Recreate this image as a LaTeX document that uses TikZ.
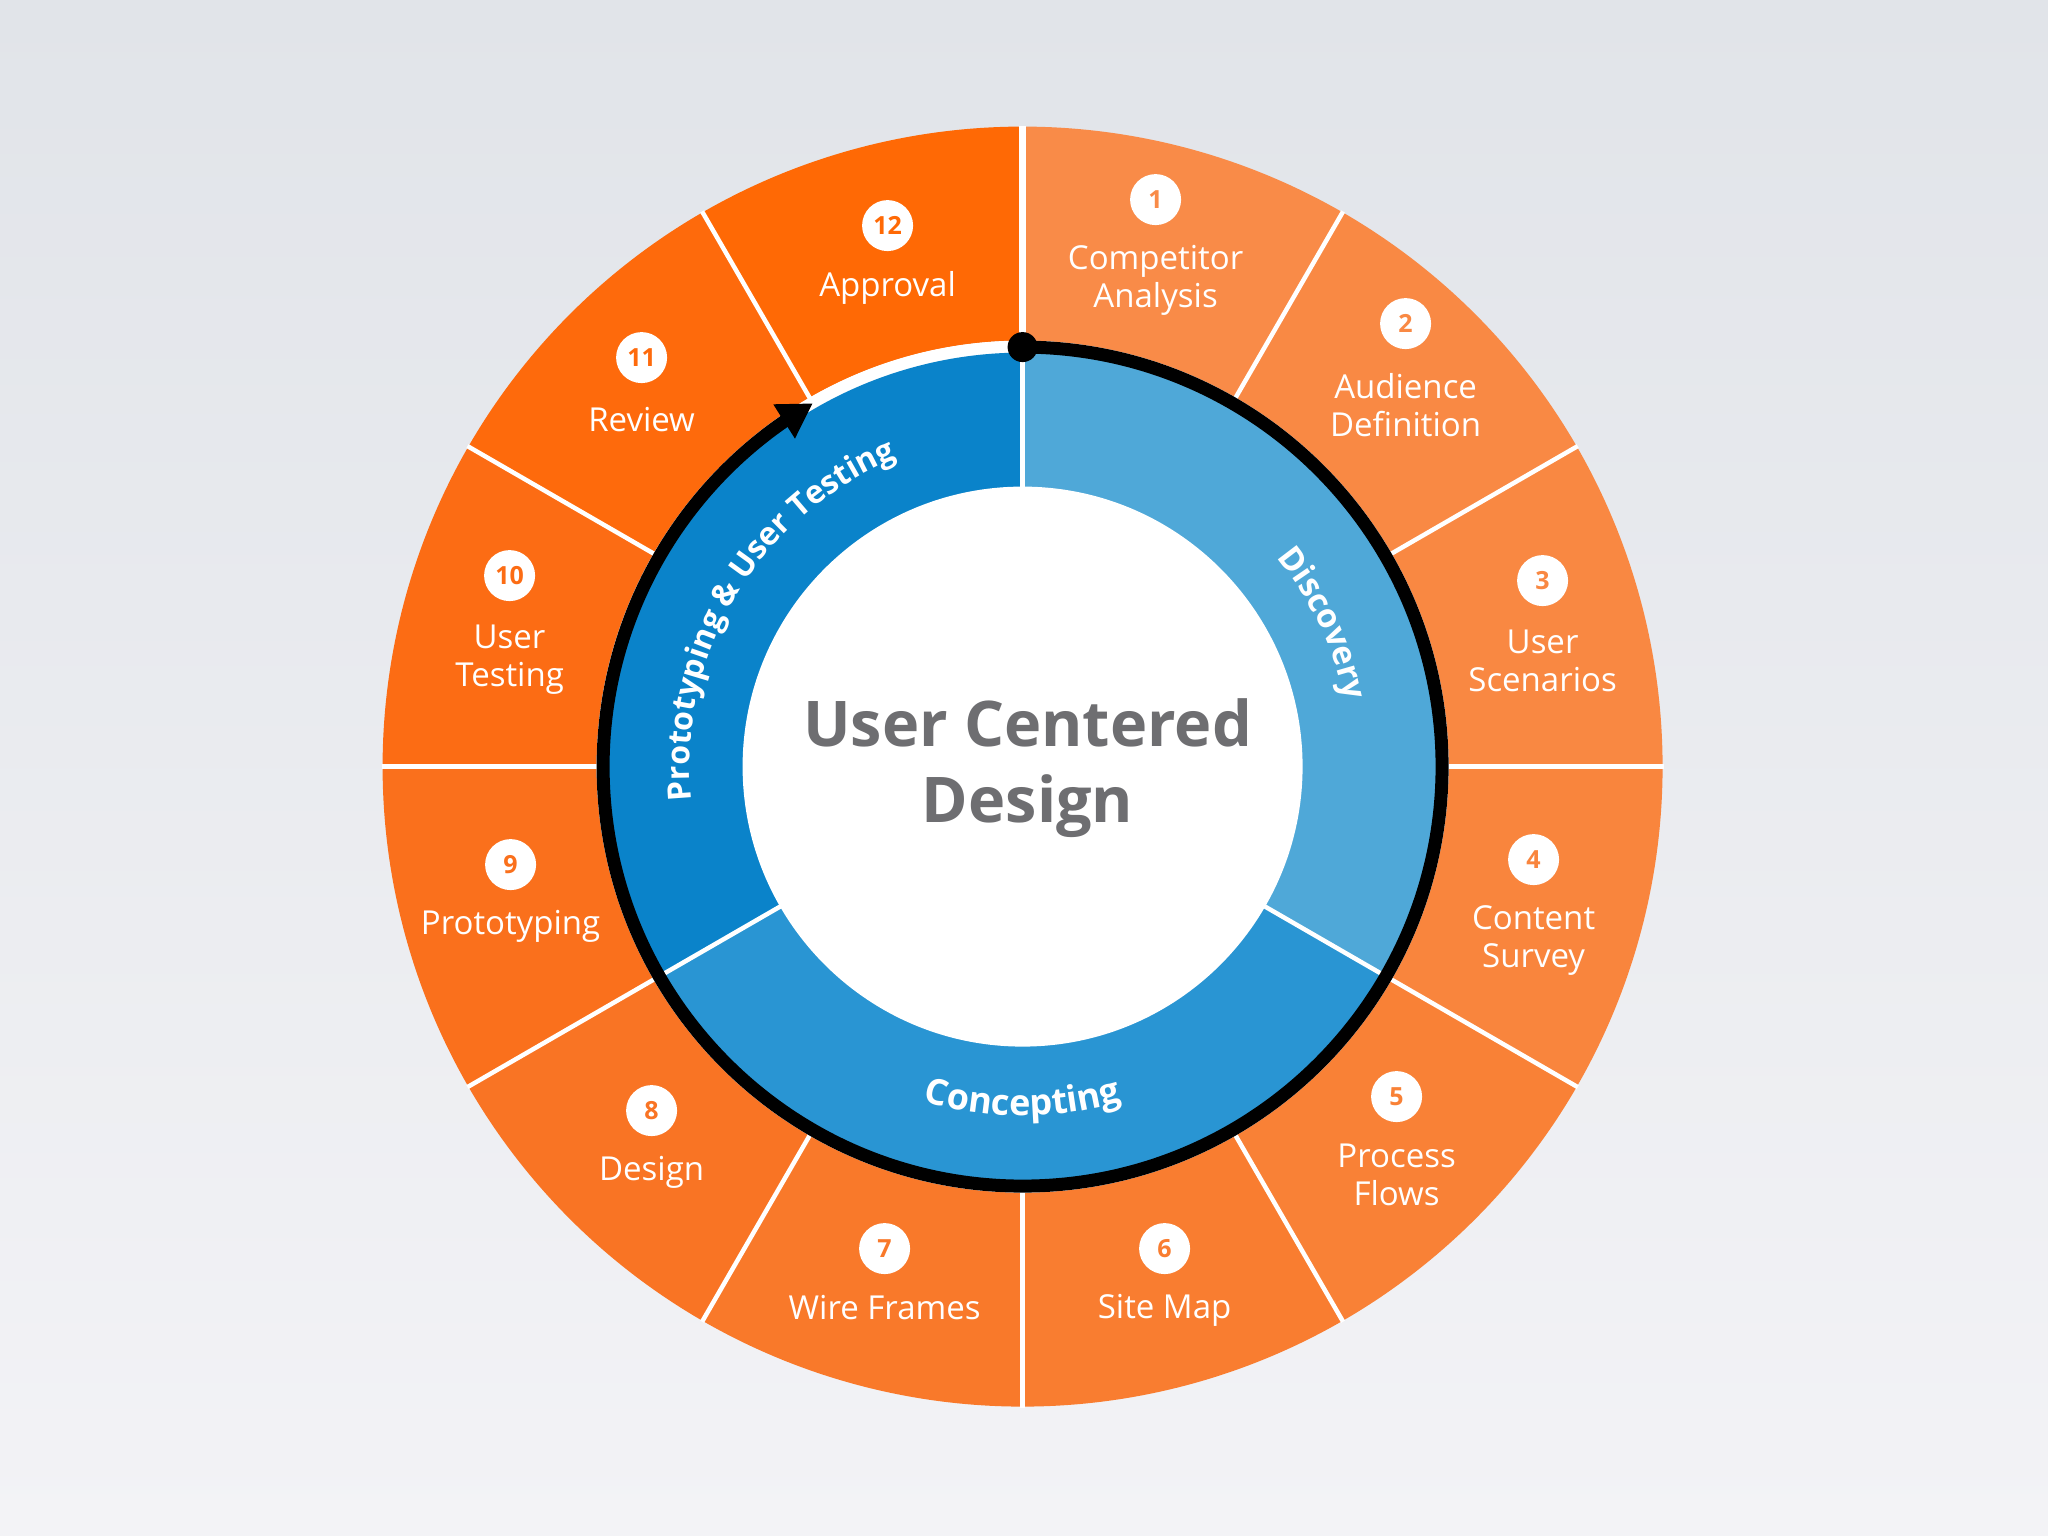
\documentclass[tikz,border=0pt]{standalone}
\usepackage{fontspec}
\setmainfont{Open Sans}
\usetikzlibrary{arrows.meta,decorations.text,bending}
\definecolor{bgtop}{HTML}{E1E4E9}
\definecolor{bgbot}{HTML}{F3F3F6}
\definecolor{or1}{HTML}{F98B48}
\definecolor{or2}{HTML}{F98944}
\definecolor{or3}{HTML}{F98842}
\definecolor{or4}{HTML}{F9853D}
\definecolor{or5}{HTML}{F98136}
\definecolor{or6}{HTML}{F97D30}
\definecolor{or7}{HTML}{F9792A}
\definecolor{or8}{HTML}{F97424}
\definecolor{or9}{HTML}{FA701C}
\definecolor{or10}{HTML}{FC6C14}
\definecolor{or11}{HTML}{FE6A0C}
\definecolor{or12}{HTML}{FF6905}
\definecolor{bDisc}{HTML}{4FA8D8}
\definecolor{bConc}{HTML}{2995D3}
\definecolor{bProt}{HTML}{0A83CA}
\definecolor{titlegray}{HTML}{6E6E71}
\begin{document}
\begin{tikzpicture}[x=1pt,y=1pt,
  lbl/.style={text=white, font=\fontsize{33}{38}\selectfont, align=center, inner sep=0pt},
  numc/.style={circle, fill=white, minimum size=51pt, inner sep=0pt, font=\fontsize{25}{25}\selectfont\bfseries},
  sepline/.style={white, line width=4.5pt},
  ringtext/.style={decorate, decoration={text along path, text align=center, text color=white}},
  titletext/.style={text=titlegray, font=\fontsize{63}{63}\selectfont\bfseries, inner sep=0pt, anchor=base},
]
% background
\fill[top color=bgtop,bottom color=bgbot] (-1022.6,-769.4) rectangle (1025.4,766.6);
\useasboundingbox (-1022.6,-769.4) rectangle (1025.4,766.6);

% orange sectors
\foreach \i/\c in {1/or1,2/or2,3/or3,4/or4,5/or5,6/or6,7/or7,8/or8,9/or9,10/or10,11/or11,12/or12} {
  \pgfmathsetmacro\sa{90-30*(\i-1)}
  \pgfmathsetmacro\sb{\sa-30}
  \fill[\c] (\sa:426) -- (\sa:640) arc[start angle=\sa, end angle=\sb, radius=640]
     -- (\sb:426) arc[start angle=\sb, end angle=\sa, radius=426] -- cycle;
}
% white gap and blue ring
\fill[white] (0,0) circle[radius=426];
\fill[bDisc] (0,0) -- (90:414) arc[start angle=90,end angle=-30,radius=414] -- cycle;
\fill[bConc] (0,0) -- (-30:414) arc[start angle=-30,end angle=-150,radius=414] -- cycle;
\fill[bProt] (0,0) -- (210:414) arc[start angle=210,end angle=90,radius=414] -- cycle;
\fill[white] (0,0) circle[radius=280];

% separators
\foreach \a in {60,30,0,-30,-60,-90,-120,-150,-180,-210,-240} \draw[sepline] (\a:418) -- (\a:641);
\draw[white, line width=7pt] (90:418) -- (90:641);
\foreach \a in {90,-30,210} \draw[sepline] (\a:278) -- (\a:420);

% ring labels
\path[ringtext, decoration={text={|\fontsize{33}{33}\selectfont\bfseries|Discovery}}]
  (50.5:329) arc[start angle=50.5, end angle=0.5, radius=329];
\path[ringtext, decoration={text={|\fontsize{36}{36}\selectfont\bfseries|Concepting}}]
  (235:349) arc[start angle=235, end angle=305, radius=349];
\path[ringtext, decoration={text={|\fontsize{32}{32}\selectfont\bfseries|Prototyping {\&} User Testing}}]
  (205:333) arc[start angle=205, end angle=93, radius=333];

% cycle arrow
\node[circle, fill=black, minimum size=30pt, inner sep=0pt] (startdot) at (90:419.5) {};
\draw[line width=13pt, -{Triangle[length=34pt,width=38pt]}]
  (startdot.center) arc[start angle=90, end angle=-240, radius=419.5] coordinate (arrowend);

% title
\node[titletext] (title1) at (5,19.6) {User Centered};
\node[titletext] (title2) at (5,-56.4) {Design};

% numbered steps
\foreach \i/\c/\nx/\ny/\lx/\ly/\t in {
  1/or1/133/567/133/486/{Competitor\\Analysis},
  2/or2/383/443/383/361/{Audience\\Definition},
  3/or3/520/186/520/106/{User\\Scenarios},
  4/or4/511/-93/511/-174/{Content\\Survey},
  5/or5/374/-330/374/-408/{Process\\Flows},
  6/or6/142/-482/142/-544/{Site Map},
  7/or7/-138/-482/-138/-541/{Wire Frames},
  8/or8/-371/-344/-371/-406/{Design},
  9/or9/-512/-98/-512/-160/{Prototyping},
  10/or10/-513/191/-513/107/{User\\Testing},
  11/or11/-381/409/-381/347/{Review},
  12/or12/-135/541/-135/479/{Approval}} {
  \node[numc, text=\c] (n\i) at (\nx,\ny) {\i};
  \node[lbl] (l\i) at (\lx,\ly) {\t};
}
\end{tikzpicture}
\end{document}
